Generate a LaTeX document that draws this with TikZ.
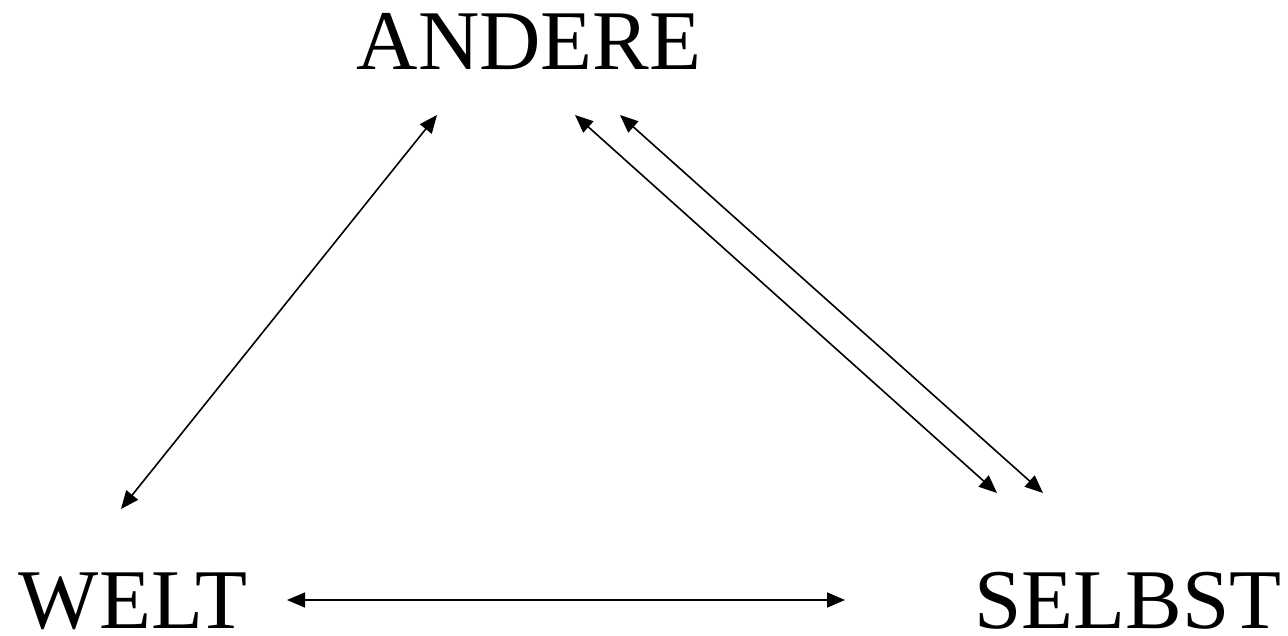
\documentclass[tikz,border=0pt]{standalone}
\usepackage{fontspec}
\setmainfont{Liberation Serif}
\usetikzlibrary{arrows.meta}
\begin{document}
\begin{tikzpicture}[
  lbl/.style={anchor=base,inner sep=0pt,text depth=0pt,font=\fontsize{85}{90}\selectfont},
  conn/.style={line width=1.6pt,{Triangle[length=18pt,width=15pt]}-{Triangle[length=18pt,width=15pt]}}]
\useasboundingbox (0pt,0pt) rectangle (1288pt,-636pt);
\node[lbl] (andere) at (529pt,-70pt) {ANDERE};
\node[lbl] (welt) at (133pt,-628pt) {WELT};
\node[lbl] (selbst) at (1128pt,-628pt) {SELBST};
\coordinate (a1) at (437pt,-115pt);
\coordinate (w1) at (121pt,-509pt);
\coordinate (a2) at (575pt,-115pt);
\coordinate (s2) at (997pt,-493pt);
\coordinate (a3) at (620pt,-115pt);
\coordinate (s3) at (1043pt,-493pt);
\coordinate (w4) at (287pt,-600pt);
\coordinate (s4) at (845pt,-600pt);
\draw[conn] (w1) -- (a1);
\draw[conn] (a2) -- (s2);
\draw[conn] (a3) -- (s3);
\draw[conn] (w4) -- (s4);
\end{tikzpicture}
\end{document}
